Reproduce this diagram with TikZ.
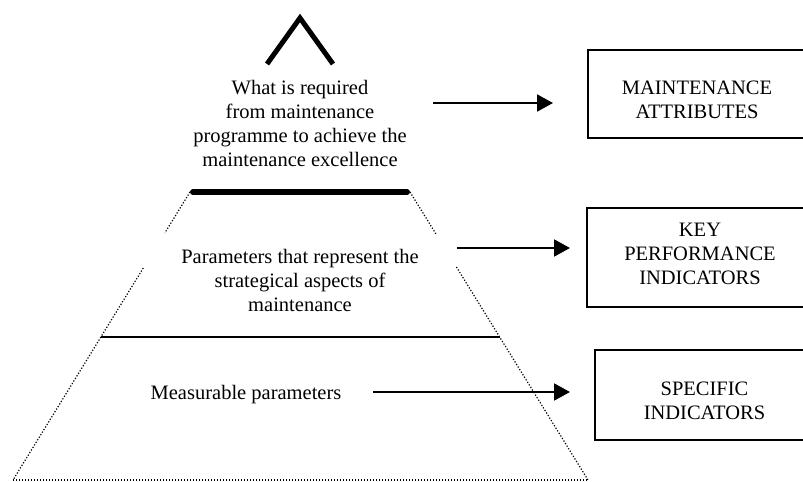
\documentclass[tikz,border=0pt]{standalone}
\usepackage{fontspec}
\setmainfont{Liberation Serif}
\usetikzlibrary{arrows.meta}
\begin{document}
\begin{tikzpicture}[x=1bp,y=-1bp,
  txt/.style={font=\fontsize{20.5bp}{24bp}\selectfont, align=center, inner sep=0pt},
  box/.style={draw, line width=2bp, inner sep=0pt},
  arr/.style={line width=2bp, -{Triangle[length=16bp,width=17bp]}},
  dots/.style={line width=1.2bp, dash pattern=on 1.2bp off 1.8bp},
  apex/.style={line width=5bp, miter limit=10},
  topbar/.style={line width=6bp, line cap=round},
  tier/.style={line width=1.8bp}]
\useasboundingbox (0,0) rectangle (803,482);
% pyramid key points
\coordinate (ap) at (300,18);
\coordinate (apl) at (267,64);
\coordinate (apr) at (333,64);
\coordinate (tl) at (190,192);
\coordinate (tr) at (410,192);
\coordinate (tlb) at (193,192);
\coordinate (trb) at (407,192);
\coordinate (lg1) at (164.8,233);
\coordinate (lg2) at (143.3,268);
\coordinate (rg1) at (436.6,235);
\coordinate (rg2) at (456.4,267);
\coordinate (bl) at (13,480);
\coordinate (br) at (588,480);
\coordinate (ml) at (100.8,337);
\coordinate (mr) at (499.6,337);
% apex and top bar
\draw[apex] (apl) -- (ap) -- (apr);
\draw[topbar] (tlb) -- (trb);
% dotted sides and base
\draw[dots] (tl) -- (lg1);
\draw[dots] (lg2) -- (bl);
\draw[dots] (tr) -- (rg1);
\draw[dots] (rg2) -- (br);
\draw[dots] (bl) -- (br);
% tier line
\draw[tier] (ml) -- (mr);
% left texts
\node[txt] (q1) at (300,123) {What is required\\from maintenance\\programme to achieve the\\maintenance excellence};
\node[txt] (q2) at (300,280) {Parameters that represent the\\strategical aspects of\\maintenance};
\node[txt] (q3) at (246,395) {Measurable parameters};
% boxes
\node[box, minimum width=218bp, minimum height=88bp] (b1) at (697,94) {};
\node[box, minimum width=226bp, minimum height=99bp] (b2) at (700,257.5) {};
\node[box, minimum width=219bp, minimum height=90bp] (b3) at (704.5,395) {};
\node[txt] (t1) at (697,100) {MAINTENANCE\\ATTRIBUTES};
\node[txt] (t2) at (700,254) {KEY\\PERFORMANCE\\INDICATORS};
\node[txt] (t3) at (704.5,401) {SPECIFIC\\INDICATORS};
% arrows
\coordinate (a1s) at (433,103);
\coordinate (a1e) at (553,103);
\coordinate (a2s) at (457,248);
\coordinate (a2e) at (570,248);
\coordinate (a3s) at (373,392);
\coordinate (a3e) at (570,392);
\draw[arr] (a1s) -- (a1e);
\draw[arr] (a2s) -- (a2e);
\draw[arr] (a3s) -- (a3e);
\end{tikzpicture}
\end{document}
